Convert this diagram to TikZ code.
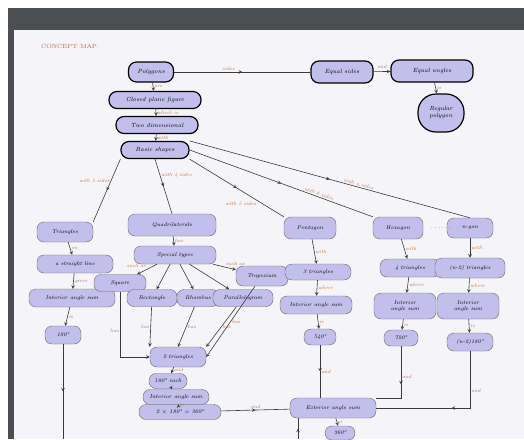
\documentclass[tikz,border=0pt]{standalone}
\usepackage{tikz}
\usetikzlibrary{arrows, decorations.markings}
\definecolor{bluish}{HTML}{C3BFEC}
\definecolor{pen}{HTML}{C0703F}
\definecolor{ink}{HTML}{3A3A3A}
\definecolor{frame}{HTML}{4B4F52}
\definecolor{paper}{HTML}{F5F4F8}
\tikzstyle{topic}    = [rectangle, rounded corners=8pt, draw=black, very thick, fill=bluish, inner sep=1pt, text centered, font=\fontsize{6}{7}\selectfont\itshape]
\tikzstyle{concept}  = [rectangle, rounded corners=7pt, draw=gray!80!black, thin, fill=bluish, inner sep=1pt, text centered, font=\fontsize{5.5}{6.5}\selectfont\itshape]
\tikzstyle{lbl}      = [text=pen, inner sep=1pt, font=\fontsize{5}{6}\selectfont\itshape]
\tikzstyle{arrow}    = [ink, semithick, ->, >=stealth]
\tikzstyle{midarrow} = [ink, semithick, decoration={markings, mark=at position 0.5 with {\arrow{stealth}}}, postaction={decorate}]

\begin{document}
\begin{tikzpicture}[x=1pt, y=-1pt]
    \useasboundingbox (0,0) rectangle (524,439);
    % Page and photo frame
    \fill[white] (0,0) rectangle (524,439);
    \fill[paper] (14,30) rectangle (524,439);
    \fill[frame] (8,8) rectangle (524,30);
    \fill[frame] (8,8) rectangle (14,439);
    \node (title) [lbl, font=\fontsize{6}{7}\selectfont] at (70,46) {CONCEPT MAP:};

    % Nodes
    %% Top chain
    \node (poly)     [topic, minimum width=45pt, minimum height=20pt] at (151,72)  {Polygons};
    \node (closed)   [topic, minimum width=92pt, minimum height=17pt] at (155,100) {Closed plane figure};
    \node (twod)     [topic, minimum width=82pt, minimum height=17pt] at (157,125) {Two dimensional};
    \node (basic)    [topic, minimum width=68pt, minimum height=17pt] at (155,150) {Basic shapes};
    \node (eqsides)  [topic, minimum width=62pt, minimum height=22pt] at (342,72)  {Equal sides};
    \node (eqangles) [topic, minimum width=82pt, minimum height=22pt] at (432,71)  {Equal angles};
    \node (regular)  [topic, rounded corners=18pt, minimum width=46pt, minimum height=38pt, align=center] at (441,113) {Regular\\polygon};
    %% Shapes
    \node (tri)      [concept, minimum width=56pt, minimum height=20pt] at (65,232)  {Triangles};
    \node (quad)     [concept, minimum width=88pt, minimum height=22pt] at (172,225) {Quadrilaterals};
    \node (pent)     [concept, minimum width=52pt, minimum height=22pt] at (310,228) {Pentagon};
    \node (hex)      [concept, minimum width=50pt, minimum height=22pt] at (398,228) {Hexagon};
    \node (ngon)     [concept, minimum width=46pt, minimum height=20pt] at (470,228) {n-gon};
    \node (dots)     [font=\fontsize{6}{7}\selectfont, text=ink] at (441,228) {$\cdots\cdots$};
    %% Triangle branch
    \node (triline)  [concept, minimum width=76pt, minimum height=18pt] at (75,264)  {a straight line};
    \node (trisum)   [concept, minimum width=86pt, minimum height=18pt] at (72,298)  {Interior angle sum};
    \node (triang)   [concept, minimum width=36pt, minimum height=18pt] at (63,335)  {180°};
    \coordinate (tribottom) at (63,439);
    %% Quadrilateral branch
    \node (types)    [concept, minimum width=82pt, minimum height=18pt] at (175,255) {Special types};
    \node (square)   [concept, minimum width=52pt, minimum height=17pt] at (120,283) {Square};
    \node (rect)     [concept, minimum width=50pt, minimum height=17pt] at (152,298) {Rectangle};
    \node (rhomb)    [concept, minimum width=42pt, minimum height=17pt] at (198,298) {Rhombus};
    \node (para)     [concept, minimum width=60pt, minimum height=17pt] at (243,298) {Parallelogram};
    \node (trap)     [concept, minimum width=52pt, minimum height=20pt] at (262,276) {Trapezium};
    \node (qtri)     [concept, minimum width=56pt, minimum height=20pt] at (178,357) {2 triangles};
    \node (qeach)    [concept, minimum width=38pt, minimum height=15pt] at (168,381) {180° each};
    \node (qint)     [concept, minimum width=66pt, minimum height=15pt] at (176,397) {Interior angle sum};
    \node (qang)     [concept, minimum width=82pt, minimum height=15pt] at (180,412) {2 $\times$ 180° = 360°};
    %% Pentagon, hexagon and n-gon branches
    \node (ptri)     [concept, minimum width=66pt, minimum height=16pt] at (318,272) {3 triangles};
    \node (psum)     [concept, minimum width=72pt, minimum height=18pt] at (316,305) {Interior angle sum};
    \node (pang)     [concept, minimum width=32pt, minimum height=16pt] at (320,337) {540°};
    \node (htri)     [concept, minimum width=60pt, minimum height=18pt] at (410,268) {4 triangles};
    \node (hsum)     [concept, minimum width=62pt, minimum height=26pt, align=center] at (405,306) {Interior\\angle sum};
    \node (hang)     [concept, minimum width=34pt, minimum height=16pt] at (401,338) {720°};
    \node (ntri)     [concept, minimum width=70pt, minimum height=20pt] at (470,268) {(n-2) triangles};
    \node (nsum)     [concept, minimum width=62pt, minimum height=26pt, align=center] at (468,306) {Interior\\angle sum};
    \node (nang)     [concept, minimum width=46pt, minimum height=18pt] at (470,342) {(n-2)180°};
    %% Exterior angles
    \node (ext)      [concept, minimum width=86pt, minimum height=20pt] at (333,408) {Exterior angle sum};
    \node (extang)   [concept, minimum width=30pt, minimum height=14pt] at (340,433) {360°};
    \coordinate (extbottom) at (298,439);

    % Arrows
    \draw [midarrow] (poly)     -- node[lbl, above, pos=.4] {sides} (eqsides);
    \draw [arrow]    (eqsides)  -- node[lbl, above=2pt]   {and}   (eqangles);
    \draw [arrow]    (eqangles) -- node[lbl, right]       {is}    (regular);
    \draw [arrow]    (poly)     -- node[lbl, right]       {are}   (closed);
    \draw [arrow]    (closed)   -- node[lbl, right]       {which is} (twod);
    \draw [arrow]    (twod)     -- node[lbl, right]       {with}  (basic);
    \draw [midarrow] (basic.south west) -- node[lbl, left, pos=.35]  {with 3 sides} (tri.north east);
    \draw [midarrow] (basic.south)      -- node[lbl, right, pos=.3]  {with 4 sides} (quad.north);
    \draw [midarrow] (basic.south east) -- node[lbl, below left, pos=.72] {with 5 sides} (pent.north west);
    \draw [midarrow] (basic.east)       -- node[lbl, sloped, above, pos=.7]  {with 6 sides} (hex.north west);
    \draw [midarrow] (basic.north east) -- node[lbl, sloped, above, pos=.6]  {with n sides} (ngon.north);
    %% Triangle branch
    \draw [arrow]    (tri)      -- node[lbl, right] {on}    (triline);
    \draw [arrow]    (triline)  -- node[lbl, right] {gives} (trisum);
    \draw [arrow]    (trisum)   -- node[lbl, right] {is}    (triang);
    \draw [midarrow] (triang)   -- (tribottom);
    %% Quadrilateral branch
    \draw [arrow]    (quad)     -- node[lbl, right] {has} (types);
    \draw [arrow]    (types)    -- node[lbl, above left] {such as} (square);
    \draw [arrow]    (types)    -- (rect);
    \draw [arrow]    (types)    -- (rhomb);
    \draw [arrow]    (types)    -- (para);
    \draw [arrow]    (types)    -- node[lbl, above right] {such as} (trap);
    \draw [arrow]    (square)   |- node[lbl, left, pos=.3] {has} (qtri.west);
    \draw [arrow]    (rect)     -- node[lbl, left] {has} (qtri.north west);
    \draw [arrow]    (rhomb)    -- node[lbl, right] {has} (qtri.north);
    \draw [arrow]    (para)     -- node[lbl, right] {has} (qtri.north east);
    \draw [arrow]    (trap)     -- node[lbl, right] {has} (qtri.east);
    \draw [arrow]    (qtri)     -- node[lbl, right] {and} (qeach);
    \draw [arrow]    (qeach)    -- (qint);
    \draw [arrow]    (qint)     -- node[lbl, right] {is} (qang);
    \draw [midarrow] (qang)     -- node[lbl, above] {and} (ext);
    %% Pentagon, hexagon and n-gon branches
    \draw [arrow]    (pent)     -- node[lbl, right] {with}  (ptri);
    \draw [arrow]    (ptri)     -- node[lbl, right] {where} (psum);
    \draw [arrow]    (psum)     -- node[lbl, right] {is}    (pang);
    \draw [midarrow] (pang)     -- node[lbl, right] {and}   (ext.north -| pang);
    \draw [arrow]    (hex)      -- node[lbl, right] {with}  (htri);
    \draw [arrow]    (htri)     -- node[lbl, right] {where} (hsum);
    \draw [arrow]    (hsum)     -- node[lbl, right] {is}    (hang);
    \draw [midarrow] (hang)     |- node[lbl, right, pos=.3] {and} (ext.north east);
    \draw [arrow]    (ngon)     -- node[lbl, right] {with}  (ntri);
    \draw [arrow]    (ntri)     -- node[lbl, right] {where} (nsum);
    \draw [arrow]    (nsum)     -- node[lbl, right] {is}    (nang);
    \draw [midarrow] (nang)     |- node[lbl, right, pos=.35] {and} (ext.east);
    \draw [arrow]    (ext)      -- node[lbl, right] {is} (extang);
    \draw [midarrow] (extbottom) -- (extbottom |- ext.south);
  \end{tikzpicture}
\end{document}
